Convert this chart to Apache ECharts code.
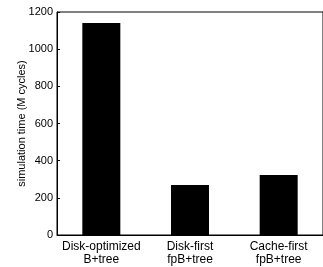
<!DOCTYPE html>
<html>
<head>
<meta charset="utf-8">
<script src="https://cdn.jsdelivr.net/npm/echarts@6/dist/echarts.min.js"></script>
<style>
  html, body { margin: 0; padding: 0; background: #fff; }
  #chart { width: 323px; height: 267px; }
</style>
</head>
<body>
<div id="chart"></div>
<script>
var categories = ['Disk-optimized\nB+tree', 'Disk-first\nfpB+tree', 'Cache-first\nfpB+tree'];
var simTime = [1141, 269, 323];
var yTicks = [0, 200, 400, 600, 800, 1000, 1200];

var chart = echarts.init(document.getElementById('chart'));
var option = {
    animation: false,
    grid: {
        left: 57,
        right: -4,
        top: 12,
        bottom: 32,
        show: true,
        borderColor: '#000',
        borderWidth: 1
    },
    xAxis: {
        type: 'category',
        data: categories,
        axisLine: { lineStyle: { color: '#000', width: 1 } },
        axisTick: { show: false },
        axisLabel: {
            interval: 0,
            color: '#000',
            fontFamily: 'Liberation Sans, Arial, sans-serif',
            fontSize: 12,
            lineHeight: 13,
            margin: 5
        }
    },
    yAxis: {
        type: 'value',
        min: yTicks[0],
        max: yTicks[yTicks.length - 1],
        interval: 200,
        name: 'simulation time (M cycles)',
        nameLocation: 'middle',
        nameGap: 30,
        nameMoveOverlap: false,
        nameTextStyle: {
            color: '#000',
            fontFamily: 'Liberation Sans, Arial, sans-serif',
            fontSize: 11
        },
        axisLine: { show: true, lineStyle: { color: '#000', width: 1 } },
        axisTick: { show: true, inside: true, length: 3, lineStyle: { color: '#000' } },
        splitLine: { show: false },
        axisLabel: {
            color: '#000',
            fontFamily: 'Liberation Sans, Arial, sans-serif',
            fontSize: 11,
            margin: 4,
            formatter: function (v) { return String(v); }
        }
    },
    series: [{
        type: 'bar',
        data: simTime,
        barWidth: 38,
        itemStyle: { color: '#000' }
    }]
};
chart.setOption(option);
</script>
</body>
</html>
